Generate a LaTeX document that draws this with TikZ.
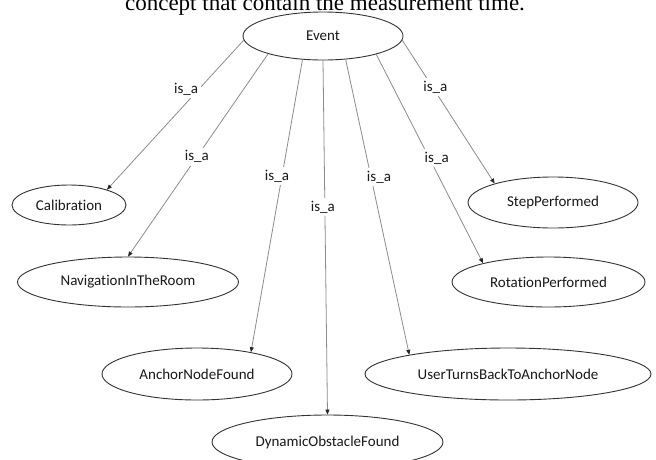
\documentclass[tikz,border=0pt]{standalone}
\usepackage{fontspec}
\setmainfont{Carlito}[Ligatures=NoCommon]
\newfontfamily\capfont{Liberation Serif}
\usetikzlibrary{shapes.geometric,arrows.meta}
\begin{document}
\begin{tikzpicture}[x=1pt,y=-1pt,
  cls/.style={ellipse, draw=black!80, line width=0.9pt, inner sep=0pt, fill=white,
              text=black!90, font=\fontsize{15}{18}\selectfont},
  edge/.style={draw=black!45, line width=0.8pt,
               -{Triangle[length=5pt,width=4pt,color=black!85]}},
  lbl/.style={fill=white, inner sep=3pt, text=black!90, font=\fontsize{15}{18}\selectfont},
  captext/.style={font=\capfont\fontsize{23}{27}\selectfont, text=black, inner sep=0pt}
]
\useasboundingbox (0,0) rectangle (656,459);
\fill[white] (0,0) rectangle (656,459);
\clip (0,0) rectangle (656,459);

\node[captext, anchor=base] (cap) at (325,10.5) {concept that contain the measurement time.};

\node[cls, minimum width=160pt, minimum height=48pt] (event) at (323,36) {Event};
\node[cls, minimum width=114pt, minimum height=40pt] (cal) at (69,205) {Calibration};
\node[cls, minimum width=221pt, minimum height=50pt] (nav) at (128,282) {NavigationInTheRoom};
\node[cls, minimum width=190pt, minimum height=52pt] (anchor) at (197,374) {AnchorNodeFound};
\node[cls, minimum width=231pt, minimum height=54pt] (dyn) at (327.5,442) {DynamicObstacleFound};
\node[cls, minimum width=286pt, minimum height=52pt] (user) at (508,374) {UserTurnsBackToAnchorNode};
\node[cls, minimum width=193pt, minimum height=50pt] (rot) at (548.5,282) {RotationPerformed};
\node[cls, minimum width=170pt, minimum height=51pt] (step) at (553,202.5) {StepPerformed};

\draw[edge] (event.183) -- node[lbl, pos=0.326, xshift=-13pt] {is\_a} (cal.22);
\draw[edge] (event.198) -- node[lbl, pos=0.508] {is\_a} (nav.north);
\draw[edge] (event.229) -- node[lbl, pos=0.398, xshift=-5pt] {is\_a} (anchor.22);
\draw[edge] (event.south) -- node[lbl, pos=0.414, xshift=-2pt] {is\_a} (dyn.north);
\draw[edge] (event.314) -- node[lbl, pos=0.398, xshift=8pt] {is\_a} (user.169);
\draw[edge] (event.341) -- node[lbl, pos=0.496, xshift=7.5pt] {is\_a} (rot.164);
\draw[edge] (event.357) -- node[lbl, pos=0.326, xshift=3pt] {is\_a} (step.162);
\end{tikzpicture}
\end{document}
